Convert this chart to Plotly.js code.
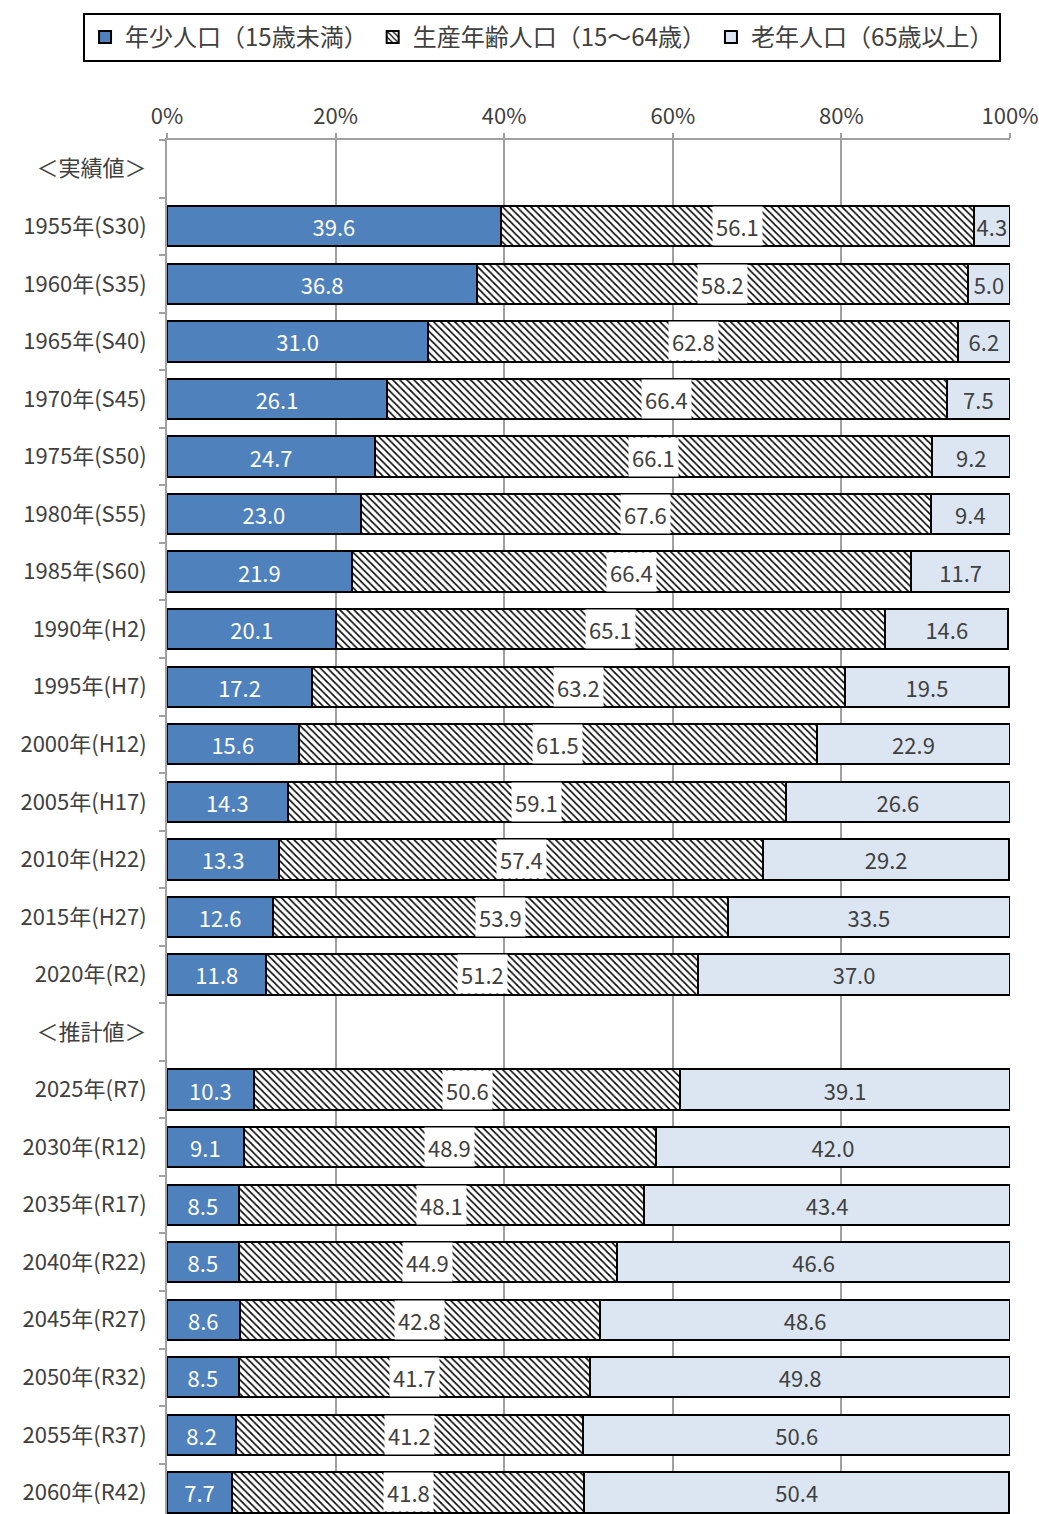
<!DOCTYPE html>
<html>
<head>
<meta charset="utf-8">
<script src="https://cdn.plot.ly/plotly-3.0.1.min.js"></script>
<style>
  body { margin: 0; background: #fff; }
  #chart { width: 1039px; height: 1514px; }
</style>
</head>
<body>
<div id="chart"></div>
<script>
// row labels, top to bottom (two header rows hold no bars)
const categories = [
    '＜実績値＞',
    '1955年(S30)', '1960年(S35)', '1965年(S40)', '1970年(S45)', '1975年(S50)',
    '1980年(S55)', '1985年(S60)', '1990年(H2)', '1995年(H7)', '2000年(H12)',
    '2005年(H17)', '2010年(H22)', '2015年(H27)', '2020年(R2)',
    '＜推計値＞',
    '2025年(R7)', '2030年(R12)', '2035年(R17)', '2040年(R22)',
    '2045年(R27)', '2050年(R32)', '2055年(R37)', '2060年(R42)'
];

// shares in %
const young = [null, 39.6, 36.8, 31.0, 26.1, 24.7, 23.0, 21.9, 20.1, 17.2, 15.6, 14.3, 13.3, 12.6, 11.8,
    null, 10.3, 9.1, 8.5, 8.5, 8.6, 8.5, 8.2, 7.7];
const working = [null, 56.1, 58.2, 62.8, 66.4, 66.1, 67.6, 66.4, 65.1, 63.2, 61.5, 59.1, 57.4, 53.9, 51.2,
    null, 50.6, 48.9, 48.1, 44.9, 42.8, 41.7, 41.2, 41.8];
const old = [null, 4.3, 5.0, 6.2, 7.5, 9.2, 9.4, 11.7, 14.6, 19.5, 22.9, 26.6, 29.2, 33.5, 37.0,
    null, 39.1, 42.0, 43.4, 46.6, 48.6, 49.8, 50.6, 50.4];

const seriesNames = ['年少人口（15歳未満）', '生産年齢人口（15～64歳）', '老年人口（65歳以上）'];

const FONT = 'Noto Sans CJK JP, sans-serif';
const TXT = '#404040';
const outline = { color: '#000', width: 2 };

const traceYoung = {
    type: 'bar',
    orientation: 'h',
    name: seriesNames[0],
    y: categories,
    x: young,
    marker: { color: '#4F81BD', line: outline },
    texttemplate: '%{x:.1f}',
    textposition: 'inside',
    insidetextanchor: 'middle',
    textangle: 0,
    textfont: { color: '#fff', size: 22, family: FONT },
    hoverinfo: 'skip',
};

const traceWorking = {
    type: 'bar',
    orientation: 'h',
    name: seriesNames[1],
    y: categories,
    x: working,
    marker: {
        color: '#fff',
        line: outline,
        pattern: { shape: '\\', fgcolor: '#000', bgcolor: '#fff', size: 5, solidity: 0.3 }
    },
    hoverinfo: 'skip',
};

const traceOld = {
    type: 'bar',
    orientation: 'h',
    name: seriesNames[2],
    y: categories,
    x: old,
    marker: { color: '#DCE6F2', line: outline },
    texttemplate: '%{x:.1f}',
    textposition: 'inside',
    insidetextanchor: 'middle',
    textangle: 0,
    textfont: { color: TXT, size: 22, family: FONT },
    hoverinfo: 'skip',
};

// labels of the hatched bars sit on a white box
const workingLabels = [];
categories.forEach((c, i) => {
    if (working[i] === null) return;
    workingLabels.push({
        x: young[i] + working[i] / 2,
        y: c,
        xref: 'x',
        yref: 'y',
        text: working[i].toFixed(1),
        showarrow: false,
        bgcolor: '#fff',
        borderpad: 3,
        font: { size: 22, color: TXT, family: FONT },
    });
});

const layout = {
    width: 1039,
    height: 1514,
    barmode: 'stack',
    bargap: 0.3,
    paper_bgcolor: '#fff',
    plot_bgcolor: '#fff',
    font: { family: FONT, color: TXT, size: 22 },
    margin: { l: 167, r: 29, t: 140, b: 0, autoexpand: false },
    uniformtext: { mode: 'show', minsize: 22 },
    showlegend: true,
    // anchored left of the plot area so the legend may span the left margin too
    legend: {
        orientation: 'h',
        x: -0.0996,
        xanchor: 'left',
        y: 1.0925,
        yanchor: 'top',
        bordercolor: '#000',
        borderwidth: 2,
        itemwidth: 30,
        font: { size: 24, color: TXT, family: FONT },
        traceorder: 'normal',
    },
    xaxis: {
        side: 'top',
        range: [0, 100],
        dtick: 20,
        ticksuffix: '%',
        showgrid: true,
        gridcolor: '#A0A0A0',
        gridwidth: 2,
        zeroline: false,
        showline: true,
        linecolor: '#A0A0A0',
        linewidth: 2,
        ticks: 'outside',
        ticklen: 5,
        tickcolor: '#A0A0A0',
        tickwidth: 2,
        automargin: false,
        fixedrange: true,
    },
    yaxis: {
        type: 'category',
        range: [23.375, -0.5],
        tickson: 'boundaries',
        ticks: 'outside',
        ticklen: 6,
        tickcolor: '#A0A0A0',
        tickwidth: 2,
        showline: true,
        linecolor: '#A0A0A0',
        linewidth: 2,
        showgrid: false,
        ticklabelstandoff: 14,
        automargin: false,
        fixedrange: true,
    },
    annotations: workingLabels,
};

Plotly.newPlot('chart', [traceYoung, traceWorking, traceOld], layout, { displayModeBar: false, staticPlot: true });
</script>
</body>
</html>
